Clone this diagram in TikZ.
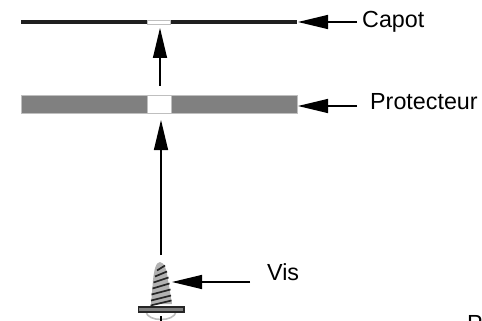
\documentclass[tikz,border=0pt]{standalone}
\usepackage{fontspec}
\setmainfont{Liberation Sans}
\usetikzlibrary{arrows.meta, positioning, calc}
\tikzset{
  bigarrow/.style={-{Triangle[length=30pt,width=14pt]}, line width=1.3pt},
  label/.style={anchor=base west, inner sep=0pt, font=\fontsize{23.3}{23}\selectfont},
  gapbox/.style={fill=white, draw=black!25, line width=0.8pt},
}
\begin{document}
\begin{tikzpicture}[x=1pt,y=-1pt]
      \useasboundingbox (0,0) rectangle (482,321);
      \clip (0,0) rectangle (482,321);

      % Capot bar
      \fill[black!88] (21,20) rectangle (297,24.5);
      \draw[gapbox] (147.5,20.5) rectangle (170.5,24);

      % Protecteur bar
      \fill[black!50, draw=black!25, line width=0.8pt] (21,95.5) rectangle (297,113);
      \draw[gapbox] (147.5,95.5) rectangle (171,113);

      % Screw arc under the head
      \draw[black!25, line width=1.6pt] (146,312) .. controls (148,322) and (174,322) .. (176,312);

      % Screw body
      \fill[black!30] (160,262) .. controls (164,262) and (167,270) .. (168,280)
          -- (172,304) -- (151,304) -- (153,280) .. controls (154,270) and (156,262) .. (160,262) -- cycle;
      \foreach \y/\w in {268/4, 274/6, 280/7.5, 286/8.5, 292/9.5, 298/10, 303/10.5} {
          \draw[black!85, line width=1.7pt] (161-\w,\y+2.5) -- (161+\w,\y-2.5);
      }

      % Screw head
      \fill[black!50, draw=black!85, line width=1.3pt] (138.5,307) rectangle (184,312);
      \draw[black, line width=1.2pt] (161,316) -- (161,321);

      % Named ends of the arrows
      \coordinate (capotgap) at (160,28);
      \coordinate (protecteurtop) at (160,86);
      \coordinate (protecteurgap) at (161,120);
      \coordinate (vistop) at (161,255);
      \coordinate (capottip) at (298,22);
      \coordinate (capottail) at (357,22);
      \coordinate (protecteurtip) at (298,106);
      \coordinate (protecteurtail) at (357,106);
      \coordinate (vistip) at (172,282);
      \coordinate (vistail) at (250,282);

      % Labels
      \node[label] (capot) at (362,27.5) {Capot};
      \node[label] (protecteur) at (370,109) {Protecteur};
      \node[label] (vis) at (267,280) {Vis};
      \node[label] (cut) at (467,331) {P};

      % Arrows
      \draw[bigarrow] (protecteurtop) -- (capotgap);
      \draw[bigarrow] (vistop) -- (protecteurgap);
      \draw[bigarrow] (capottail) -- (capottip);
      \draw[bigarrow] (protecteurtail) -- (protecteurtip);
      \draw[bigarrow] (vistail) -- (vistip);
\end{tikzpicture}
\end{document}
